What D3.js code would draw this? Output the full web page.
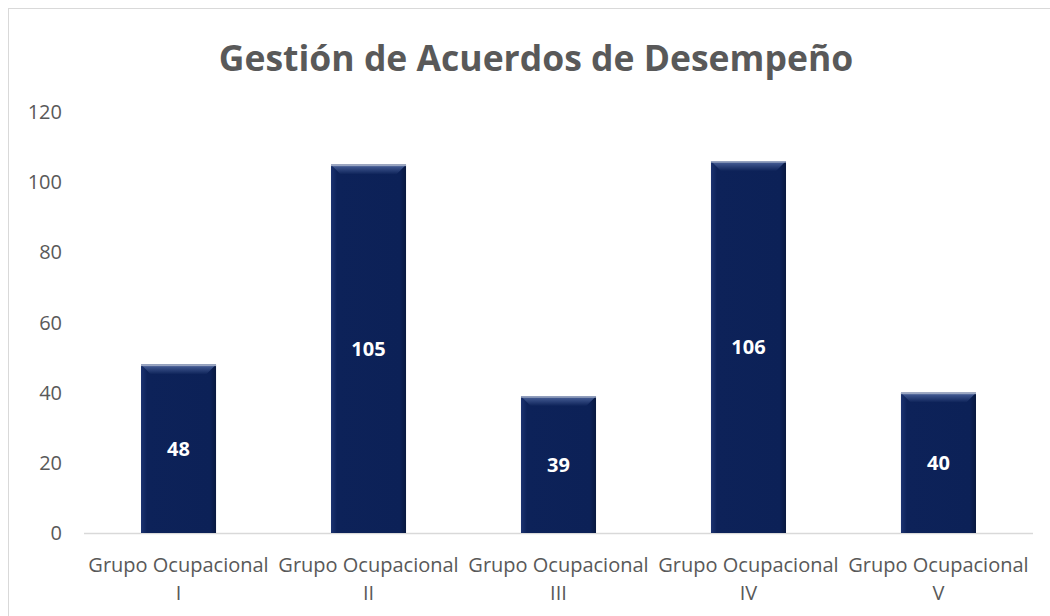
<!DOCTYPE html>
<html>
<head>
<meta charset="utf-8">
<style>
body { margin: 0; background: #fff; }
text { font-family: "Open Sans", sans-serif; }
</style>
</head>
<body>
<script src="https://cdn.jsdelivr.net/npm/d3@7"></script>
<script>

var categories = ["Grupo Ocupacional I", "Grupo Ocupacional II", "Grupo Ocupacional III", "Grupo Ocupacional IV", "Grupo Ocupacional V"];
var values = [48, 105, 39, 106, 40];
var yTicks = [0, 20, 40, 60, 80, 100, 120];

var width = 1050, height = 616;
var margin = {left: 84, right: 17, top: 112, bottom: 83};

var svg = d3.select("body").append("svg")
    .attr("width", width)
    .attr("height", height);

// chart border
svg.append("rect")
    .attr("x", 8.5).attr("y", 8.5)
    .attr("width", width + 20).attr("height", height + 20)
    .attr("fill", "#fff")
    .attr("stroke", "#d9d9d9");

var defs = svg.append("defs");
var grad = defs.append("linearGradient")
    .attr("id", "bevel").attr("x1", 0).attr("y1", 0).attr("x2", 0).attr("y2", 1);
grad.append("stop").attr("offset", "0").attr("stop-color", "#8796b8");
grad.append("stop").attr("offset", "0.2").attr("stop-color", "#40578f");
grad.append("stop").attr("offset", "1").attr("stop-color", "#0c2157");

var side = defs.append("linearGradient")
    .attr("id", "side").attr("x1", 0).attr("y1", 0).attr("x2", 1).attr("y2", 0);
side.append("stop").attr("offset", "0").attr("stop-color", "#1c3370");
side.append("stop").attr("offset", "0.08").attr("stop-color", "#0d2259");
side.append("stop").attr("offset", "0.92").attr("stop-color", "#0c2157");
side.append("stop").attr("offset", "1").attr("stop-color", "#08183f");

var x = d3.scaleBand()
    .domain(categories)
    .range([margin.left, width - margin.right])
    .paddingInner(0.605)
    .paddingOuter(0.3);

var y = d3.scaleLinear()
    .domain([0, 120])
    .range([height - margin.bottom, margin.top]);

// title
svg.append("text")
    .attr("x", 536)
    .attr("y", 71)
    .attr("text-anchor", "middle")
    .style("font-size", "35.5px")
    .style("font-weight", "bold")
    .style("fill", "#595959")
    .text("Gestión de Acuerdos de Desempeño");

// y axis labels
svg.selectAll(".ytick")
    .data(yTicks)
    .enter().append("text")
    .attr("class", "ytick")
    .attr("x", 62)
    .attr("y", function(d) { return y(d); })
    .attr("dy", "0.35em")
    .attr("text-anchor", "end")
    .style("font-size", "20px")
    .style("fill", "#595959")
    .text(function(d) { return d; });

// baseline
svg.append("line")
    .attr("x1", margin.left).attr("x2", width - margin.right)
    .attr("y1", y(0) + 0.5).attr("y2", y(0) + 0.5)
    .attr("stroke", "#d9d9d9")
    .attr("stroke-width", 1.5);

// bars
var bars = svg.selectAll(".bar")
    .data(values)
    .enter().append("g")
    .attr("class", "bar");

bars.append("rect")
    .attr("x", function(d, i) { return x(categories[i]); })
    .attr("y", function(d) { return y(d); })
    .attr("width", x.bandwidth())
    .attr("height", function(d) { return y(0) - y(d); })
    .attr("fill", "url(#side)");

// bevel at top, with slanted corners
bars.append("path")
    .attr("d", function(d, i) {
      var x0 = x(categories[i]), x1 = x0 + x.bandwidth(), t = y(d), b = 10;
      return "M" + x0 + "," + t + "L" + x1 + "," + t + "L" + (x1 - b) + "," + (t + b) +
             "L" + (x0 + b) + "," + (t + b) + "Z";
    })
    .attr("fill", "url(#bevel)");

bars.append("rect")
    .attr("x", function(d, i) { return x(categories[i]); })
    .attr("y", function(d) { return y(d); })
    .attr("width", x.bandwidth())
    .attr("height", 1.5)
    .attr("fill", "#9aa6c2");

bars.append("text")
    .attr("x", function(d, i) { return x(categories[i]) + x.bandwidth() / 2; })
    .attr("y", function(d) { return (y(d) + y(0)) / 2; })
    .attr("dy", "0.35em")
    .attr("text-anchor", "middle")
    .style("font-size", "20px")
    .style("font-weight", "bold")
    .style("fill", "#fff")
    .text(function(d) { return d; });

// category labels, two lines
var cat = svg.selectAll(".cat")
    .data(categories)
    .enter().append("text")
    .attr("class", "cat")
    .attr("text-anchor", "middle")
    .style("font-size", "20px")
    .style("fill", "#595959");

cat.append("tspan")
    .attr("x", function(d) { return x(d) + x.bandwidth() / 2; })
    .attr("y", 572)
    .text(function(d) { return d.split(" ").slice(0, 2).join(" "); });

cat.append("tspan")
    .attr("x", function(d) { return x(d) + x.bandwidth() / 2; })
    .attr("y", 600)
    .text(function(d) { return d.split(" ")[2]; });

</script>
</body>
</html>
